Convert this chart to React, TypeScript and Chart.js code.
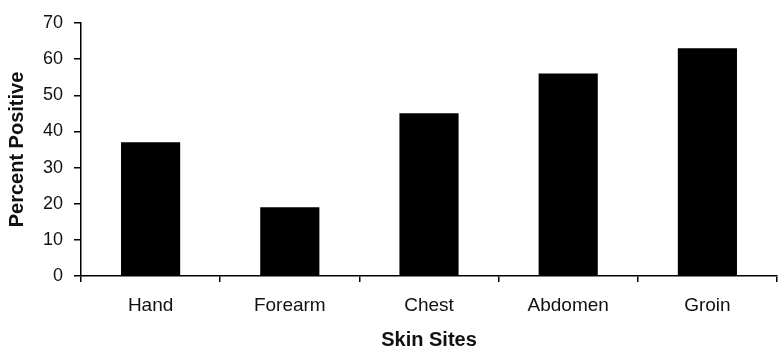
import React, { useEffect, useRef } from "react";
import { Chart, registerables } from "chart.js";

Chart.register(...registerables);

const categories = ["Hand", "Forearm", "Chest", "Abdomen", "Groin"];
const percentPositive = [37, 19, 45, 56, 63];
const yTicks = [0, 10, 20, 30, 40, 50, 60, 70];
const xTitle = "Skin Sites";
const yTitle = "Percent Positive";

const FONT = "'Liberation Sans', Arial, sans-serif";

export default function App() {
  const ref = useRef<HTMLCanvasElement | null>(null);

  useEffect(() => {
    document.body.style.margin = "0";
    const canvas = ref.current;
    if (!canvas) return;
    const chart = new Chart(canvas, {
      type: "bar",
      data: {
        labels: categories,
        datasets: [
          {
            data: percentPositive,
            backgroundColor: "#000000",
            borderColor: "#000000",
            borderWidth: 0,
            categoryPercentage: 1,
            barPercentage: 0.425,
          },
        ],
      },
      options: {
        responsive: false,
        animation: false,
        devicePixelRatio: 1,
        layout: { padding: { top: 23, right: 1, left: 0, bottom: 0 } },
        plugins: { legend: { display: false }, tooltip: { enabled: false } },
        scales: {
          x: {
            grid: {
              drawOnChartArea: false,
              drawTicks: true,
              tickLength: 6,
              color: "#000",
              lineWidth: 1.5,
              offset: true,
            },
            border: { display: true, color: "#000", width: 1.5 },
            ticks: {
              color: "#111",
              padding: 12,
              font: { family: FONT, size: 19 },
              maxRotation: 0,
            },
            title: {
              display: true,
              text: xTitle,
              color: "#111",
              font: { family: FONT, size: 20, weight: "bold", lineHeight: 1 },
              padding: { top: 0, bottom: 1 },
            },
            afterFit: (scale: any) => {
              scale.height = 75;
            },
          },
          y: {
            min: 0,
            max: 70,
            afterBuildTicks: (scale: any) => {
              scale.ticks = yTicks.map((v) => ({ value: v }));
            },
            grid: {
              drawOnChartArea: false,
              drawTicks: true,
              tickLength: 7,
              color: "#000",
              lineWidth: 1.5,
            },
            border: { display: true, color: "#000", width: 1.5 },
            ticks: {
              color: "#111",
              padding: 11,
              font: { family: FONT, size: 18 },
            },
            title: {
              display: true,
              text: yTitle,
              color: "#111",
              font: { family: FONT, size: 20, weight: "bold", lineHeight: 1 },
              padding: { top: 7, bottom: 0 },
            },
            afterFit: (scale: any) => {
              scale.width = 81;
            },
          },
        },
      },
    });
    return () => chart.destroy();
  }, []);

  return (
    <div style={{ width: 778, height: 351 }}>
      <canvas ref={ref} width={778} height={351} style={{ display: "block" }} />
    </div>
  );
}
